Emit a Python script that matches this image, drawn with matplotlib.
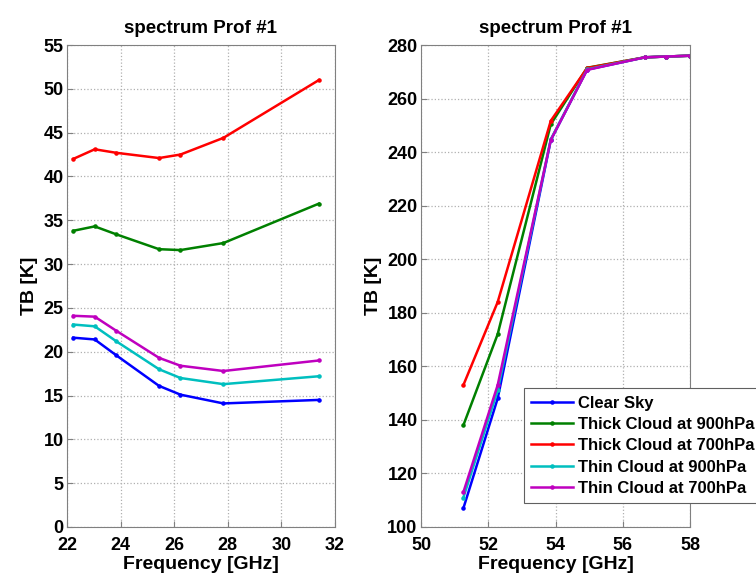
import matplotlib
matplotlib.use("Agg")
import matplotlib.pyplot as plt

# ─────────────────────────────────────────────
# DATA
# ─────────────────────────────────────────────
freq_k = [22.235, 23.035, 23.835, 25.435, 26.235, 27.835, 31.4]
freq_v = [51.26, 52.28, 53.86, 54.94, 56.66, 57.30, 58.00]

labels = ["Clear Sky", "Thick Cloud at 900hPa", "Thick Cloud at 700hPa",
          "Thin Cloud at 900hPa", "Thin Cloud at 700hPa"]
colors = ["#0000ff", "#008000", "#ff0000", "#00bfbf", "#bf00bf"]

tb_k = [
    [21.6, 21.4, 19.6, 16.1, 15.1, 14.1, 14.5],   # clear sky
    [33.8, 34.3, 33.4, 31.7, 31.6, 32.4, 36.9],   # thick 900
    [42.0, 43.1, 42.7, 42.1, 42.5, 44.4, 51.0],   # thick 700
    [23.1, 22.9, 21.2, 18.0, 17.0, 16.3, 17.2],   # thin 900
    [24.1, 24.0, 22.4, 19.3, 18.4, 17.8, 19.0],   # thin 700
]
tb_v = [
    [107.0, 148.0, 244.5, 270.8, 275.4, 275.7, 276.0],
    [138.0, 172.0, 250.4, 271.5, 275.4, 275.7, 276.0],
    [153.0, 184.0, 251.7, 271.4, 275.4, 275.7, 276.0],
    [111.0, 151.0, 244.8, 270.9, 275.4, 275.7, 276.0],
    [113.0, 153.0, 244.6, 270.7, 275.4, 275.7, 276.0],
]

plt.rcParams["font.family"] = ["Liberation Sans", "DejaVu Sans"]
plt.rcParams["font.weight"] = "bold"

fig = plt.figure(figsize=(7.56, 5.74), dpi=100)
ax1 = fig.add_axes([0.0886, 0.0819, 0.3545, 0.8397])
ax2 = fig.add_axes([0.5569, 0.0819, 0.3558, 0.8397])


def style(ax):
    ax.grid(True, linestyle=":", color="#b0b0b0", linewidth=0.9)
    ax.tick_params(direction="in", labelsize=13, length=4, color="#808080")
    ax.tick_params(axis="x", pad=7)
    ax.tick_params(axis="y", pad=2.5)
    for s in ax.spines.values():
        s.set_color("#808080")
    for t in ax.get_xticklabels() + ax.get_yticklabels():
        t.set_fontweight("bold")
    ax.set_title("spectrum Prof #1", fontsize=13.5, fontweight="bold", pad=9)
    ax.set_xlabel("Frequency [GHz]", fontsize=14, fontweight="bold", labelpad=2)
    ax.set_ylabel("TB [K]", fontsize=14, fontweight="bold", labelpad=4)


for ys, c, lab in zip(tb_k, colors, labels):
    ax1.plot(freq_k, ys, color=c, linewidth=1.8, marker=".", markersize=4.5, label=lab)
ax1.set_xlim(22, 32)
ax1.set_ylim(0, 55)
ax1.set_xticks(range(22, 33, 2))
ax1.set_yticks(range(0, 56, 5))
style(ax1)

for ys, c, lab in zip(tb_v, colors, labels):
    ax2.plot(freq_v, ys, color=c, linewidth=1.8, marker=".", markersize=4.5, label=lab)
ax2.set_xlim(50, 58)
ax2.set_ylim(100, 280)
ax2.set_xticks(range(50, 59, 2))
ax2.set_yticks(range(100, 281, 20))
style(ax2)

leg = ax2.legend(loc="upper left", bbox_to_anchor=(0.6925, 0.324),
                 bbox_transform=fig.transFigure, fontsize=12,
                 fancybox=False, framealpha=1, edgecolor="#606060",
                 handlelength=2.5, handletextpad=0.3, borderpad=0.45,
                 labelspacing=0.38, borderaxespad=0)
leg.get_frame().set_linewidth(0.8)
for t in leg.get_texts():
    t.set_fontweight("bold")

fig.savefig("out.png", dpi=100)
